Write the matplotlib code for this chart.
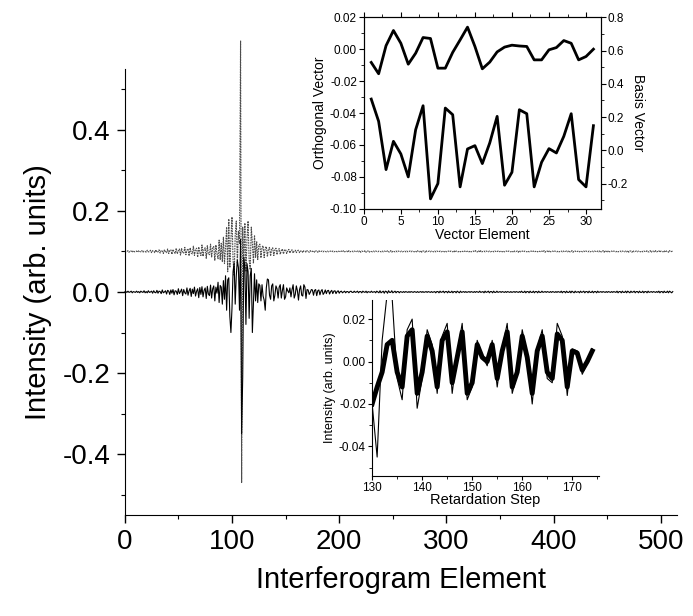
import numpy as np
import matplotlib
matplotlib.use("Agg")
import matplotlib.pyplot as plt
from matplotlib.ticker import MultipleLocator

plt.rcParams['font.family'] = ['Liberation Sans', 'DejaVu Sans']

# ---------------- data (milli-units for the interferograms) ----------------
# lower interferogram (solid), elements 0-129
lower_head = [
    0, 1, -1, 2, -1, 0, 2, -2, 1, 0, -1, 2, -1, 1, -2, 2, 0, -1, 3, -2,
    1, -2, 3, -1, 0, 2, -3, 3, -1, -2, 4, -3, 2, 1, -4, 5, -2, 0, 3, -5,
    4, 2, -6, 5, -3, 6, -7, 3, 2, -6, 8, -4, 1, 7, -9, 6, -2, -5, 10, -8,
    3, 9, -11, 7, -4, 12, -10, 2, 8, -14, 11, -6, 13, -12, 4, 10, -16, 14, -5, -9,
    17, -15, 8, 15, -22, 12, -3, 24, -26, 16, 12, -30, 28, -18, 40, -45, 30, 35, -60, -100,
    -40, 50, 72, -30, 40, 78, 60, -45, 130, -350, -210, 85, 60, -80, 70, 50, -65, 40, 58, -100,
    -30, 45, -22, 30, -26, 20, 16, -22, 18, -10,
]
# retardation steps 130-174 (thin line in the lower inset, also part of the lower trace)
retard_steps = list(range(130, 175))
measured = [
    -20, -45, 10, 32, 30, -8, -18, 15, 20, -22,
    -8, 15, 8, -15, 12, 18, -15, 4, 18, -18,
    -12, 10, 3, -2, 10, -12, 6, 18, -15, -6,
    15, 3, -20, 6, 15, -8, -10, 18, 12, -16,
    6, 5, -6, -1, 6,
]
# reconstruction (thick line in the lower inset)
reconstructed = [
    -20, -12, -5, 8, 10, -5, -12, 12, 15, -15,
    -5, 12, 5, -12, 10, 14, -10, 2, 14, -15,
    -10, 8, 2, 0, 8, -8, 5, 14, -12, -5,
    12, 2, -15, 5, 12, -5, -8, 13, 10, -12,
    5, 4, -4, 0, 5,
]
lower_tail = [
    5, -8, 4, 6, -9, 3, 5, -7, 2, 6, -6, -2, 5, -4, 3, 4, -5, 1, 4, -4, 2, 3, -4, 1, 3,
    -3, 1, 2, -2, 0, 2, -2, 1, 1, -2, 1, 2, -1, -1, 2, -1, 0, 2, -2, 1,
    1, -2, 2, 0, -1, 2, -2, 1, 0, -1, 2, -1, 0, 1, -2, 2, 0, -2, 3, -2,
    0, 2, -3, 2, 1, -3, 3, -1, -1, 3, -2, 0, 2, -2, 1, 1, -2, 1, 0, -1,
    1, -1, 1, 0, -1, 1, -1, 1, 0, -1, 1, 0, -1, 1, -1, 0, 1, -1, 1, -1,
    0, 1, -1, 1, 0, -1, 1, -1, 0, 1, -2, 1, 1, -2, 2, -1, 0, 2, -2, 1,
    1, -2, 2, -1, -1, 2, -2, 1, 1, -2, 2, 0, -2, 2, -1, 0, 1, -1, 1, -1,
    0, 1, -1, 1, 0, -1, 1, -1, 1, 0, -1, 2, -1, 0, 1, -2, 2, -1, 0, 2,
    -2, 1, 1, -2, 2, -1, -1, 2, -1, 0, 1, -1, 1, 0, -1, 1, -1, 1, 0, -1,
    1, -1, 0, 1, -1, 1, 0, -1, 1, -1, 2, -1, -1, 2, -2, 1, 1, -2, 2, -1,
    -1, 2, -2, 1, 1, -2, 2, -1, -1, 2, -1, 0, 1, -1, 1, 0, -1, 1, -1, 1,
    0, -1, 1, -1, 1, 0, -1, 2, -2, 1, 1, -2, 2, -1, -1, 2, -2, 2, 0, -2,
    2, -1, 0, 1, -2, 2, -1, 0, 2, -2, 1, 1, -2, 2, -1, -1, 2, -2, 1, 1,
    -2, 2, -1, 0, 1, -1, 1, 0, -1, 1, -1, 1, 0, -1, 1, -1, 1, 0, -1, 2,
    -2, 1, 1, -2, 2, -1, -1, 2, -2, 2, 0, -2, 2, -1, 0, 2, -2, 1, 1, -2,
    2, -1, -1, 2, -2, 1, 1, -2, 2, -1, 0, 1, -1, 1, 0, -1, 1, -1, 2, -2,
    1, 1, -2, 2, -1, -1, 2, -2, 2, 0, -2, 1,
]

# upper interferogram (dotted), drawn with an offset of 0.1
upper_offset = 0.1
upper = [
    1, -1, 0, 2, -2, 1, 1, -2, 2, -1, 0, 1, -2, 2, 0, -1, 2, -2, 1, 0,
    -2, 3, -1, -1, 3, -3, 2, 1, -3, 4, -2, -1, 4, -4, 2, 2, -5, 4, -1, -3,
    6, -5, 2, 4, -7, 5, -1, -5, 8, -6, 2, 6, -9, 7, -3, -4, 10, -8, 3, 7,
    -11, 9, -4, -6, 13, -10, 5, 8, -14, 11, -3, -10, 16, -12, 6, 9, -17, 14, -7, -8,
    18, -15, 10, 12, -22, 16, -6, -18, 28, -20, 20, -25, 35, -30, 10, 60, -50, 80, -40, 30,
    85, -20, -60, 40, 75, -30, 50, 20, 520, -570, 60, -40, 70, -50, 30, 75, -20, -45, 60, 20,
    -30, 40, -15, 25, -20, 15, 18, -16, 10, 14, -15, 8, 12, -13, 6, 10, -11, 5, 9, -10,
    4, 8, -8, 3, 7, -7, 2, 6, -6, 3, 5, -5, 1, 5, -4, 2, 4, -4, 1, 3,
    -3, 2, 3, -3, 1, 2, -3, 2, 1, -2, 2, 0, -2, 2, -1, 0, 2, -2, 1, 1,
    -2, 2, -1, 0, 1, -1, 1, 0, -1, 1, -1, 0, 1, -1, 1, -1, 0, 1, -1, 1,
    0, -1, 1, -1, 2, -1, 0, 1, -2, 2, -1, 0, 1, -1, 1, 0, -1, 1, -1, 2,
    -2, 1, 0, -1, 2, -2, 1, 1, -2, 1, 0, -1, 1, -1, 1, 0, -1, 1, 0, -1,
    1, -1, 1, 0, -1, 2, -1, -1, 2, -2, 1, 0, -1, 1, -1, 1, 0, -1, 1, -1,
    0, 1, -1, 1, -1, 0, 1, -1, 1, 0, -1, 1, -1, 2, -1, -1, 2, -2, 1, 1,
    -2, 2, -1, 0, 1, -1, 1, 0, -1, 1, -1, 1, 0, -1, 1, -1, 0, 1, -1, 1,
    -1, 0, 1, -1, 1, 0, -1, 2, -2, 1, 0, -1, 1, -1, 1, 0, -1, 1, -1, 0,
    1, -1, 1, -1, 0, 1, -1, 2, -1, -1, 2, -2, 2, -1, 0, 1, -1, 1, 0, -1,
    1, -1, 0, 1, -1, 1, 0, -1, 1, -1, 0, 1, -1, 1, -1, 0, 1, -1, 1, 0,
    -1, 1, -1, 2, -1, 0, 1, -2, 2, -1, 0, 1, -1, 1, 0, -1, 1, -1, 0, 1,
    -1, 1, -1, 0, 1, -1, 1, 0, -1, 1, -1, 2, -2, 1, 1, -2, 2, -1, 0, 1,
    -1, 1, 0, -1, 1, -1, 0, 1, -1, 1, -1, 0, 1, -1, 2, -1, -1, 2, -2, 1,
    1, -1, 0, 1, -1, 1, 0, -1, 1, -1, 1, 0, -1, 1, -1, 0, 1, -1, 1, 0,
    -1, 1, -1, 2, -1, -1, 2, -2, 2, 0, -2, 2, -1, 0, 1, -1, 1, 0, -1, 1,
    -1, 0, 1, -1, 1, 0, -1, 1, -1, 2, -2, 1, 1, -2, 2, -1, 0, 1, -1, 1,
    0, -1, 1, -1, 1, 0, -1, 2, -1, -1, 2, -2, 1, 1, -2, 2, -1, 0, 2, -2,
    1, 0, -1, 2, -2, 1, 1, -2, 2, -1, 0, 1,
]

# top inset: vector elements 1-31
vec_elem = list(range(1, 32))
orthogonal = [
    -0.0083, -0.0154, 0.0022, 0.0117, 0.0037, -0.0094, -0.0025, 0.0073, 0.0067, -0.0119,
    -0.0119, -0.0020, 0.0058, 0.0138, 0.0017, -0.0123, -0.0081, -0.0017, 0.0013, 0.0025,
    0.0020, 0.0017, -0.0067, -0.0067, -0.0004, 0.0010, 0.0054, 0.0037, -0.0067, -0.0046,
    0.0000,
]
basis = [
    0.308, 0.174, -0.116, 0.054, -0.022, -0.160, 0.124, 0.268, -0.292, -0.200,
    0.254, 0.214, -0.220, 0.008, 0.028, -0.080, 0.044, 0.204, -0.210, -0.132,
    0.244, 0.220, -0.220, -0.072, 0.010, -0.016, 0.084, 0.220, -0.176, -0.220,
    0.148,
]


def fmt(decimals):
    # avoid "-0.00" style labels
    def f(v, pos):
        v = round(v, decimals)
        if v == 0:
            v = 0.0
        return f"{v:.{decimals}f}"
    return f


# ---------------- figure ----------------
fig = plt.figure(figsize=(6.93, 6.16), dpi=100)

lower = np.array(lower_head + measured + lower_tail) / 1000.0
upper_v = np.array(upper) / 1000.0 + upper_offset

ax = fig.add_axes([0.180, 0.164, 0.797, 0.724])
ax.plot(np.arange(len(upper_v)), upper_v, color='0.3', lw=0.8, ls=(0, (1.5, 0.8)),
        clip_on=False)
ax.plot(np.arange(len(lower)), lower, color='black', lw=0.8, clip_on=False)
ax.set_xlim(0, 515)
ax.set_ylim(-0.55, 0.55)
ax.spines['top'].set_visible(False)
ax.spines['right'].set_visible(False)
ax.xaxis.set_major_locator(MultipleLocator(100))
ax.xaxis.set_minor_locator(MultipleLocator(50))
ax.yaxis.set_major_locator(MultipleLocator(0.2))
ax.yaxis.set_minor_locator(MultipleLocator(0.1))
ax.yaxis.set_major_formatter(fmt(1))
ax.tick_params(which='major', direction='out', length=6, width=1, labelsize=20, pad=4)
ax.tick_params(which='minor', direction='out', length=3, width=0.8)
ax.set_xlabel('Interferogram Element', fontsize=21, labelpad=8)
ax.set_ylabel('Intensity (arb. units)', fontsize=21, labelpad=8)

# top inset
ti = fig.add_axes([0.525, 0.661, 0.342, 0.311])
ti.patch.set_alpha(0)
ti.plot(vec_elem, orthogonal, color='black', lw=2.0)
ti.set_xlim(0, 32)
ti.set_ylim(-0.10, 0.02)
ti.xaxis.set_major_locator(MultipleLocator(5))
ti.xaxis.set_minor_locator(MultipleLocator(2.5))
ti.yaxis.set_major_locator(MultipleLocator(0.02))
ti.yaxis.set_minor_locator(MultipleLocator(0.01))
ti.yaxis.set_major_formatter(fmt(2))
ti.tick_params(which='major', direction='out', length=3.5, labelsize=8.5, pad=1.5)
ti.tick_params(which='minor', direction='out', length=2)
ti.tick_params(axis='x', which='both', top=True)
ti.set_xlabel('Vector Element', fontsize=10, labelpad=0)
ti.set_ylabel('Orthogonal Vector', fontsize=10, labelpad=2)
tr = ti.twinx()
tr.plot(vec_elem, basis, color='black', lw=2.0)
tr.set_ylim(-0.352, 0.8)
tr.yaxis.set_major_locator(MultipleLocator(0.2))
tr.yaxis.set_minor_locator(MultipleLocator(0.1))
tr.yaxis.set_major_formatter(fmt(1))
tr.tick_params(which='major', direction='out', length=3.5, labelsize=8.5, pad=1.5)
tr.tick_params(which='minor', direction='out', length=2)
tr.set_ylabel('Basis Vector', fontsize=10, rotation=270, labelpad=12)

# bottom inset
bi = fig.add_axes([0.537, 0.227, 0.327, 0.286])
bi.patch.set_alpha(0)
bi.plot(retard_steps, np.array(measured) / 1000.0, color='black', lw=0.8)
bi.plot(retard_steps, np.array(reconstructed) / 1000.0, color='black', lw=3.5,
        solid_joinstyle='round')
bi.set_xlim(130, 175.3)
bi.set_ylim(-0.054, 0.029)
bi.spines['top'].set_visible(False)
bi.spines['right'].set_visible(False)
bi.xaxis.set_major_locator(MultipleLocator(10))
bi.xaxis.set_minor_locator(MultipleLocator(5))
bi.yaxis.set_major_locator(MultipleLocator(0.02))
bi.yaxis.set_minor_locator(MultipleLocator(0.01))
bi.yaxis.set_major_formatter(fmt(2))
bi.tick_params(which='major', direction='out', length=3, labelsize=8.5, pad=1.5)
bi.tick_params(which='minor', direction='out', length=2)
bi.set_xlabel('Retardation Step', fontsize=10.5, labelpad=-1)
bi.set_ylabel('Intensity (arb. units)', fontsize=9, labelpad=2)

fig.savefig('out.png', dpi=100)
